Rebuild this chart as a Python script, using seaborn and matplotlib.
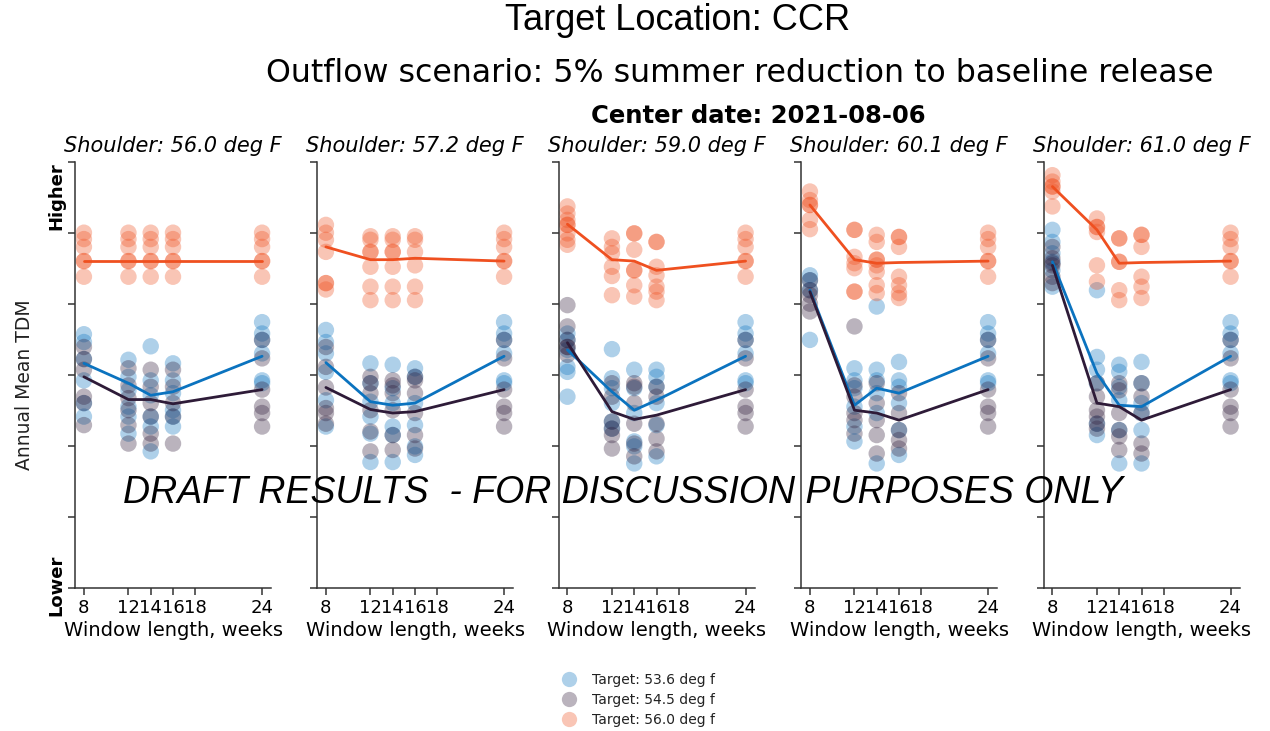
import matplotlib
matplotlib.use("Agg")
import matplotlib.pyplot as plt
from matplotlib.lines import Line2D
import pandas as pd
import seaborn as sns

# ---------------- data ----------------
windows = [8, 12, 14, 16, 24]
xticks = [8, 12, 14, 16, 18, 24]
shoulders = ["56.0", "57.2", "59.0", "60.1", "61.0"]
targets = ["Target: 53.6 deg f", "Target: 54.5 deg f", "Target: 56.0 deg f"]

# 24-week window values (identical in every panel)
t536_w24 = [3.74, 3.58, 3.49, 3.30, 2.92, 2.88]
t545_w24 = [3.49, 3.23, 2.79, 2.55, 2.46, 2.27]
t560_w24 = [5.00, 4.91, 4.80, 4.60, 4.60, 4.38]

# Shoulder 56.0
s560_t536 = [[3.57, 3.46, 3.22, 2.92, 2.60, 2.41], [3.21, 2.97, 2.78, 2.55, 2.41, 2.17],
             [3.40, 2.92, 2.71, 2.41, 2.27, 1.92], [3.16, 2.92, 2.74, 2.50, 2.41, 2.27], t536_w24]
s560_t545 = [[3.39, 3.22, 3.07, 2.69, 2.60, 2.29], [3.09, 2.85, 2.67, 2.50, 2.29, 2.03],
             [3.07, 2.83, 2.60, 2.41, 2.17, 2.03], [3.07, 2.83, 2.60, 2.41, 2.03], t545_w24]
s560_t560 = [[5.00, 4.91, 4.80, 4.60, 4.60, 4.38], [5.00, 4.91, 4.80, 4.60, 4.60, 4.38],
             [5.00, 4.91, 4.80, 4.60, 4.60, 4.38], [5.00, 4.91, 4.80, 4.60, 4.60, 4.38], t560_w24]
s560_t536_line = [3.16, 2.88, 2.71, 2.76, 3.26]
s560_t545_line = [2.97, 2.65, 2.65, 2.59, 2.79]
s560_t560_line = [4.60, 4.60, 4.60, 4.60, 4.60]

# Shoulder 57.2
s572_t536 = [[3.63, 3.46, 3.30, 3.04, 2.64, 2.27], [3.16, 2.88, 2.62, 2.41, 2.17, 1.77],
             [3.14, 2.81, 2.60, 2.27, 2.15, 1.77], [3.09, 2.97, 2.60, 2.29, 1.99, 1.87], t536_w24]
s572_t545 = [[3.39, 3.11, 2.82, 2.53, 2.46, 2.31], [2.97, 2.88, 2.74, 2.50, 2.20, 1.92],
             [2.92, 2.85, 2.74, 2.50, 2.15, 1.94], [2.97, 2.92, 2.74, 2.46, 2.15, 1.96], t545_w24]
s572_t560 = [[5.11, 5.00, 4.90, 4.73, 4.29, 4.29, 4.20], [4.95, 4.90, 4.73, 4.73, 4.52, 4.24, 4.05],
             [4.95, 4.90, 4.73, 4.73, 4.52, 4.24, 4.05], [4.95, 4.90, 4.73, 4.54, 4.24, 4.05], t560_w24]
s572_t536_line = [3.17, 2.62, 2.57, 2.60, 3.26]
s572_t545_line = [2.82, 2.51, 2.46, 2.48, 2.79]
s572_t560_line = [4.80, 4.62, 4.62, 4.64, 4.60]

# Shoulder 59.0
s590_t536 = [[3.58, 3.49, 3.35, 3.11, 3.04, 2.69], [3.36, 2.95, 2.81, 2.60, 2.34, 2.24],
             [3.07, 2.81, 2.46, 2.06, 1.99, 1.75], [3.07, 2.97, 2.83, 2.60, 2.29, 1.85], t536_w24]
s590_t545 = [[3.98, 3.68, 3.49, 3.39, 3.39, 3.28], [2.88, 2.69, 2.34, 2.24, 2.15, 1.96],
             [2.88, 2.83, 2.60, 2.31, 2.03, 1.85], [2.83, 2.69, 2.31, 2.10, 1.92], t545_w24]
s590_t560 = [[5.37, 5.27, 5.18, 5.11, 5.11, 4.99, 4.90, 4.83], [4.92, 4.80, 4.71, 4.52, 4.39, 4.12],
             [4.99, 4.99, 4.76, 4.47, 4.47, 4.26, 4.10], [4.87, 4.87, 4.52, 4.40, 4.24, 4.17, 4.05], t560_w24]
s590_t536_line = [3.35, 2.76, 2.50, 2.64, 3.26]
s590_t545_line = [3.45, 2.48, 2.37, 2.43, 2.79]
s590_t560_line = [5.12, 4.62, 4.60, 4.47, 4.60]

# Shoulder 60.1
s601_t536 = [[4.40, 4.33, 4.19, 3.49], [3.09, 2.92, 2.81, 2.55, 2.27, 2.06],
             [3.96, 3.07, 2.92, 2.74, 2.46, 1.75], [3.18, 2.92, 2.83, 2.60, 2.22, 1.87], t536_w24]
s601_t545 = [[4.33, 4.19, 4.12, 4.00, 3.89], [3.68, 2.85, 2.69, 2.46, 2.36, 2.17],
             [2.88, 2.60, 2.36, 2.15, 1.89], [2.74, 2.46, 2.22, 2.08, 1.96], t545_w24]
s601_t560 = [[5.58, 5.46, 5.39, 5.39, 5.18, 5.05], [5.04, 5.04, 4.66, 4.57, 4.50, 4.17, 4.17],
             [4.97, 4.87, 4.62, 4.62, 4.54, 4.45, 4.26, 4.15], [4.94, 4.94, 4.80, 4.38, 4.26, 4.15, 4.08], t560_w24]
s601_t536_line = [4.19, 2.57, 2.81, 2.74, 3.26]
s601_t545_line = [4.17, 2.50, 2.46, 2.36, 2.79]
s601_t560_line = [5.39, 4.62, 4.57, 4.58, 4.60]

# Shoulder 61.0
s610_t536 = [[5.04, 4.87, 4.71, 4.59, 4.47, 4.24], [4.19, 3.25, 3.07, 2.88, 2.31, 2.15],
             [3.14, 3.04, 2.83, 2.64, 2.22, 1.75], [3.18, 2.88, 2.60, 2.46, 2.22, 1.75], t536_w24]
s610_t545 = [[4.80, 4.64, 4.57, 4.54, 4.38, 4.29], [2.88, 2.69, 2.50, 2.41, 2.31, 2.24],
             [2.88, 2.78, 2.46, 2.22, 2.13, 1.94], [2.88, 2.69, 2.46, 2.03, 1.89], t545_w24]
s610_t560 = [[5.81, 5.72, 5.65, 5.65, 5.58, 5.37], [5.20, 5.08, 5.08, 5.01, 4.54, 4.31],
             [4.92, 4.92, 4.59, 4.59, 4.19, 4.05], [4.97, 4.97, 4.80, 4.38, 4.24, 4.08], t560_w24]
s610_t536_line = [4.59, 3.02, 2.57, 2.55, 3.26]
s610_t545_line = [4.54, 2.60, 2.55, 2.36, 2.79]
s610_t560_line = [5.65, 5.04, 4.57, 4.58, 4.60]

panel_points = [
    (s560_t536, s560_t545, s560_t560),
    (s572_t536, s572_t545, s572_t560),
    (s590_t536, s590_t545, s590_t560),
    (s601_t536, s601_t545, s601_t560),
    (s610_t536, s610_t545, s610_t560),
]
panel_lines = [
    (s560_t536_line, s560_t545_line, s560_t560_line),
    (s572_t536_line, s572_t545_line, s572_t560_line),
    (s590_t536_line, s590_t545_line, s590_t560_line),
    (s601_t536_line, s601_t545_line, s601_t560_line),
    (s610_t536_line, s610_t545_line, s610_t560_line),
]

colors = {targets[0]: "#0b73bf", targets[1]: "#2e1b38", targets[2]: "#ef5020"}

# ---------------- style ----------------
sns.set_theme(style="ticks")
plt.rcParams["font.family"] = ["DejaVu Sans"]
plt.rcParams["text.color"] = "black"
plt.rcParams["axes.labelcolor"] = "black"
plt.rcParams["axes.edgecolor"] = "#333333"
plt.rcParams["axes.linewidth"] = 1.1
plt.rcParams["xtick.color"] = "#333333"
plt.rcParams["ytick.color"] = "#333333"
plt.rcParams["xtick.labelcolor"] = "black"

fig = plt.figure(figsize=(12.7, 7.31), dpi=100)
W, H = 1270.0, 731.0
ax_w = 196
ax_bottom_px, ax_top_px = 587.7, 161.7
lefts = [75, 317, 558.5, 801, 1043.5]

axes = []
for i, lpx in enumerate(lefts):
    ax = fig.add_axes([lpx / W, 1 - ax_bottom_px / H, ax_w / W, (ax_bottom_px - ax_top_px) / H])
    axes.append(ax)
    pts = panel_points[i]
    lns = panel_lines[i]
    rows = []
    for t, series in zip(targets, pts):
        for w, vals in zip(windows, series):
            for v in vals:
                rows.append({"window": w, "value": v, "target": t})
    df = pd.DataFrame(rows)
    sns.scatterplot(data=df, x="window", y="value", hue="target", hue_order=targets,
                    palette=colors, alpha=0.33, s=140, linewidth=0, legend=False, ax=ax)
    lrows = []
    for t, series in zip(targets, lns):
        for w, v in zip(windows, series):
            lrows.append({"window": w, "value": v, "target": t})
    ldf = pd.DataFrame(lrows)
    sns.lineplot(data=ldf, x="window", y="value", hue="target", hue_order=targets,
                 palette=colors, linewidth=2, legend=False, ax=ax, errorbar=None)

    ax.set_xlim(7.2, 24.8)
    ax.set_ylim(0, 6)
    ax.set_xticks(xticks)
    ax.set_xticklabels([str(x) for x in xticks], fontsize=13)
    ax.set_yticks(range(7))
    ax.set_yticklabels([])
    ax.tick_params(length=5, width=1.1, pad=3)
    ax.set_xlabel("Window length, weeks", fontsize=14, labelpad=3)
    ax.set_ylabel("")
    ax.set_title(f"Shoulder: {shoulders[i]} deg F", fontsize=15, style="italic", pad=7)
    sns.despine(ax=ax)

axes[0].text(-0.097, 0.919, "Higher", transform=axes[0].transAxes, rotation=90,
             fontsize=13, fontweight="bold", ha="center", va="center")
axes[0].text(-0.097, 0.006, "Lower", transform=axes[0].transAxes, rotation=90,
             fontsize=13, fontweight="bold", ha="center", va="center")

fig.text(25 / W, 1 - 385 / H, "Annual Mean TDM", rotation=90, fontsize=13.5,
         ha="center", va="center", color="#222222")

fig.text(678 / W, 1 - 20 / H, "Target Location: CCR", fontsize=26,
         family=["Liberation Sans", "DejaVu Sans"], ha="center", va="center")
fig.text(740 / W, 1 - 73 / H, "Outflow scenario: 5% summer reduction to baseline release",
         fontsize=22.8, ha="center", va="center")
fig.text(758 / W, 1 - 116 / H, "Center date: 2021-08-06", fontsize=17.5,
         fontweight="bold", ha="center", va="center")

fig.text(623 / W, 1 - 493 / H, "DRAFT RESULTS  - FOR DISCUSSION PURPOSES ONLY",
         fontsize=27, style="italic", family=["Liberation Sans", "DejaVu Sans"],
         ha="center", va="center", zorder=10)

handles = [Line2D([], [], marker="o", linestyle="none", markersize=11,
                  markerfacecolor=colors[t], markeredgewidth=0, alpha=0.33) for t in targets]
fig.legend(handles, targets, loc="center", bbox_to_anchor=(0.5, 1 - 700 / H),
           frameon=False, fontsize=10, labelspacing=0.45, handletextpad=0.6,
           labelcolor="#222222")

fig.savefig("out.png", dpi=100)
